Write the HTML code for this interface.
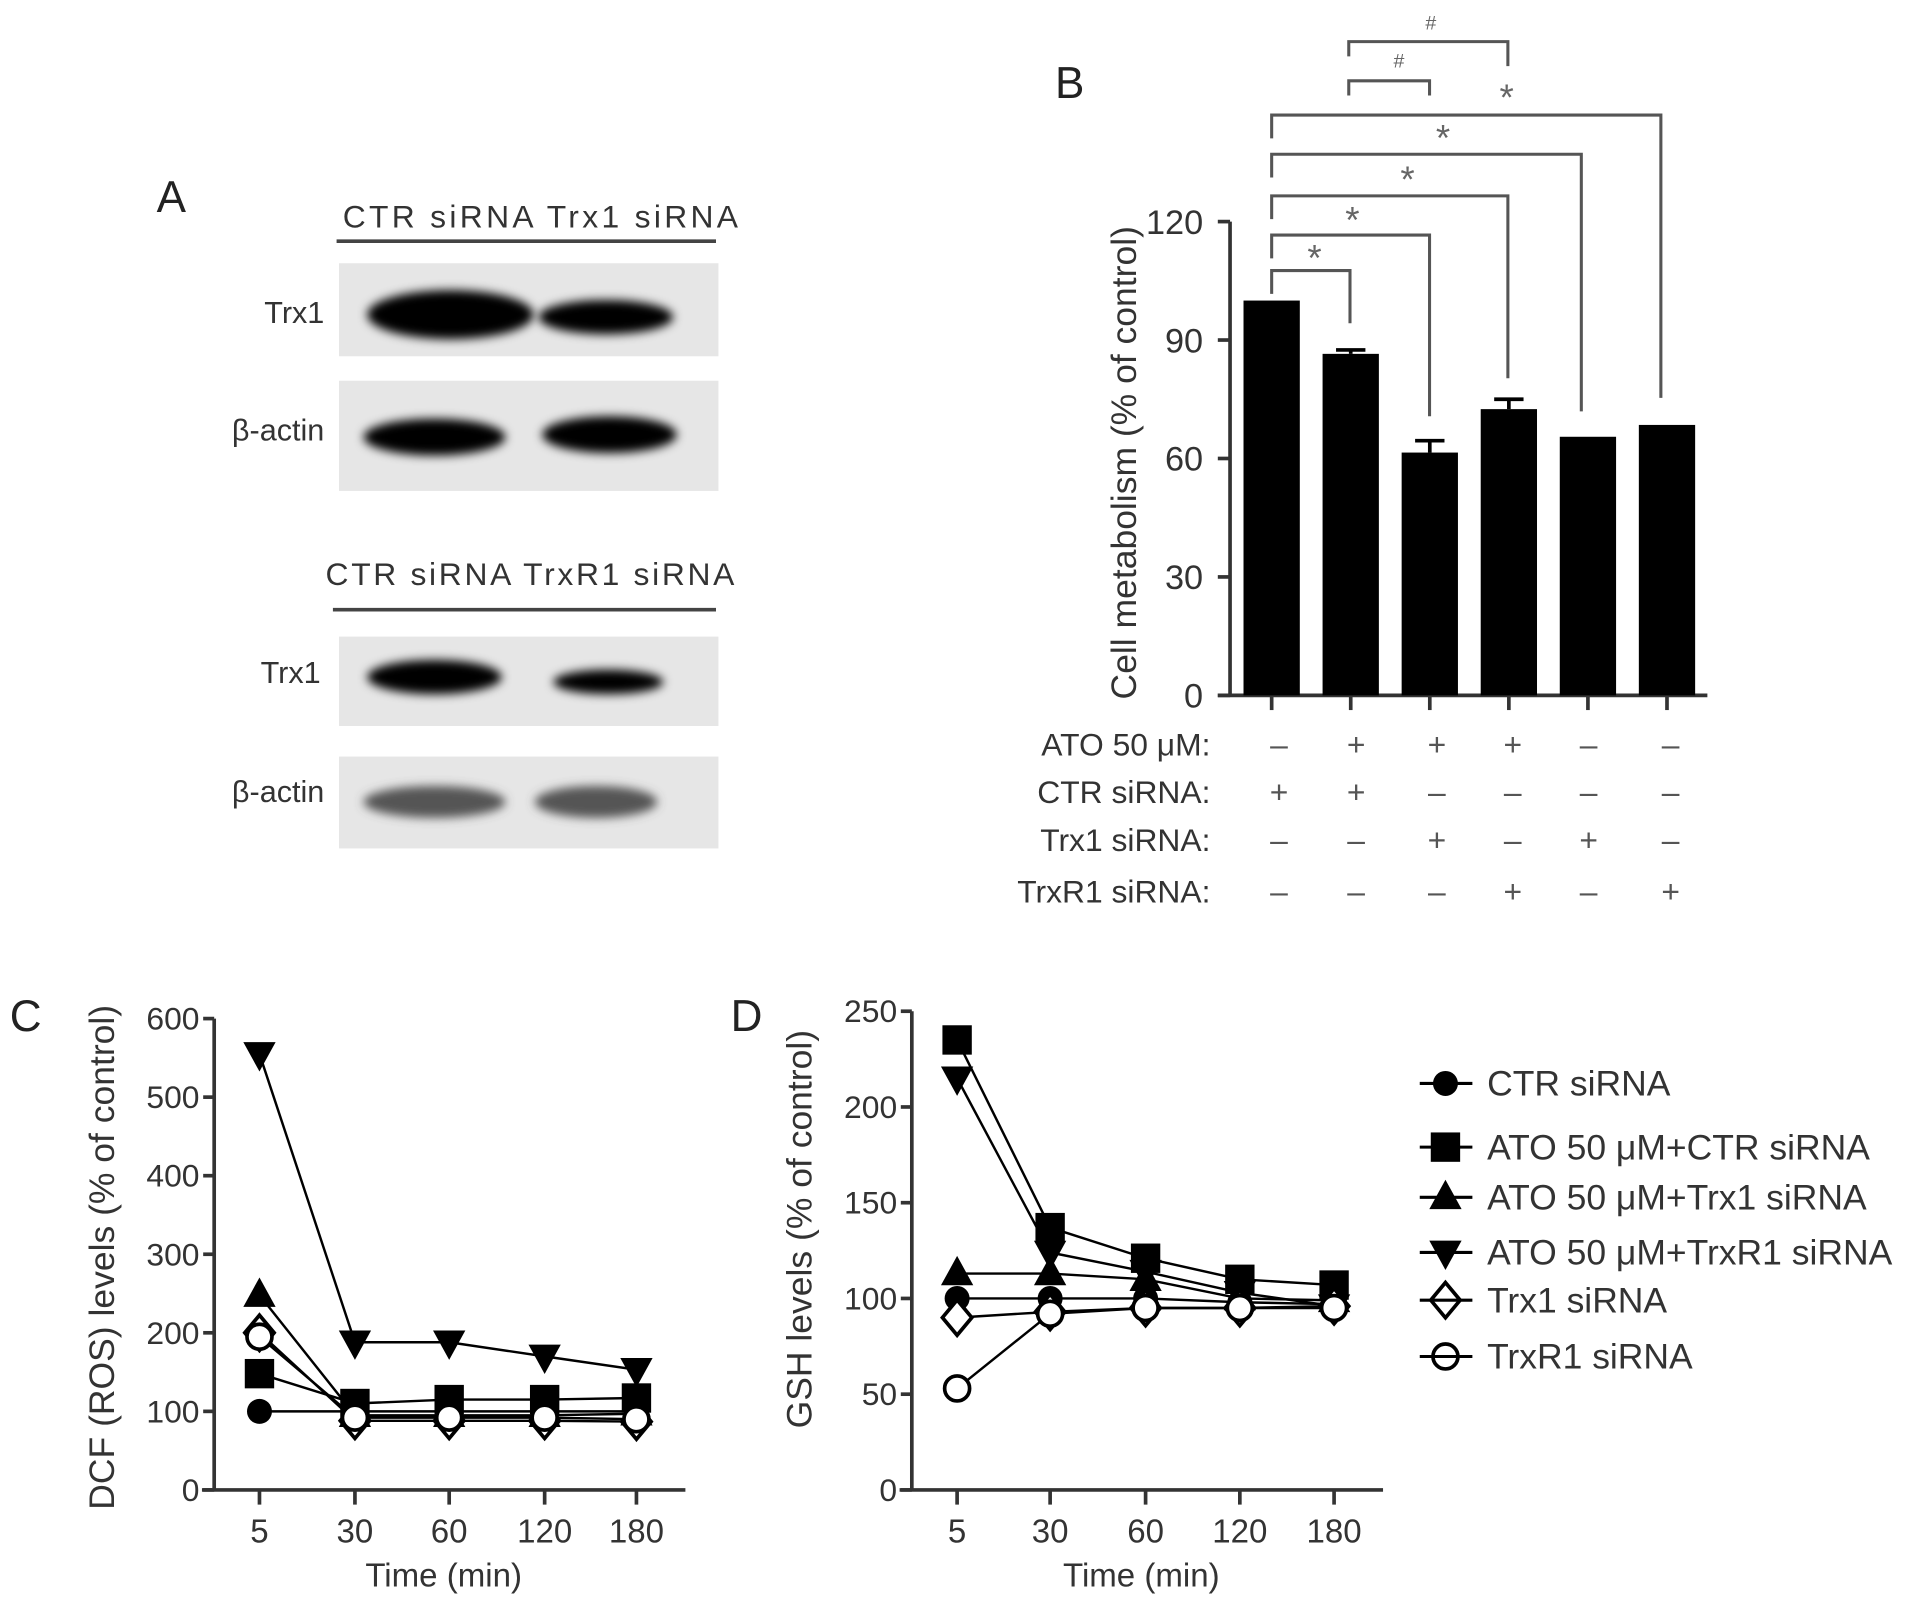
<!DOCTYPE html>
<html><head><meta charset="utf-8"><style>
html,body{margin:0;padding:0;background:#fff;}
svg{display:block;font-family:"Liberation Sans",sans-serif;}
</style></head><body>
<svg id="fig" width="1913" height="1605" viewBox="0 0 1563 1311" preserveAspectRatio="none" xmlns="http://www.w3.org/2000/svg">
<defs>
<filter id="blur" x="-20%" y="-50%" width="140%" height="200%"><feGaussianBlur stdDeviation="4"/></filter>
</defs>
<!-- Panel A -->
<g>
<text x="128" y="173" font-size="36" fill="#222">A</text>
<text x="280" y="186" font-size="26" textLength="323" lengthAdjust="spacing" fill="#333">CTR siRNA  Trx1 siRNA</text>
<line x1="275" y1="197" x2="585" y2="197" stroke="#444" stroke-width="3"/>
<rect x="277" y="215" width="310" height="76" fill="#e6e6e6"/>
<ellipse cx="368" cy="257" rx="68" ry="20" fill="#000" filter="url(#blur)"/>
<ellipse cx="495" cy="259" rx="55" ry="14" fill="#000" filter="url(#blur)"/>
<text x="265" y="264" font-size="25" text-anchor="end" fill="#333">Trx1</text>
<rect x="277" y="311" width="310" height="90" fill="#e6e6e6"/>
<ellipse cx="355" cy="357" rx="58" ry="15" fill="#000" filter="url(#blur)"/>
<ellipse cx="498" cy="355" rx="55" ry="15" fill="#000" filter="url(#blur)"/>
<text x="265" y="360" font-size="25" text-anchor="end" fill="#333">β-actin</text>
<text x="266" y="478" font-size="26" textLength="334" lengthAdjust="spacing" fill="#333">CTR siRNA TrxR1 siRNA</text>
<line x1="272" y1="498" x2="585" y2="498" stroke="#444" stroke-width="3"/>
<rect x="277" y="520" width="310" height="73" fill="#e6e6e6"/>
<ellipse cx="355" cy="553" rx="55" ry="14" fill="#000" filter="url(#blur)"/>
<ellipse cx="497" cy="557" rx="45" ry="10" fill="#000" filter="url(#blur)"/>
<text x="262" y="558" font-size="25" text-anchor="end" fill="#333">Trx1</text>
<rect x="277" y="618" width="310" height="75" fill="#e6e6e6"/>
<ellipse cx="355" cy="655" rx="58" ry="13" fill="#555" filter="url(#blur)"/>
<ellipse cx="487" cy="655" rx="50" ry="13" fill="#555" filter="url(#blur)"/>
<text x="265" y="655" font-size="25" text-anchor="end" fill="#333">β-actin</text>
</g>
<g id="panelB">
<text x="862" y="80" font-size="36" fill="#222">B</text>
</g>
<g id="panelC">
<text x="8" y="842" font-size="36" fill="#222">C</text>
</g>
<g id="panelD">
<text x="597" y="842" font-size="36" fill="#222">D</text>
</g>
<g id="legend"></g>
</svg>
<script>
// Panel B data
const barCategories = ['g1','g2','g3','g4','g5','g6'];
const barValues = [100, 86.5, 61.5, 72.5, 65.5, 68.5];
const barErrors = [0, 1, 3, 2.5, 0, 0];
const barYTicks = [0, 30, 60, 90, 120];
const rowLabels = ['ATO  50 μM:', 'CTR siRNA:', 'Trx1 siRNA:', 'TrxR1 siRNA:'];
const rowSigns = [['–','+','+','+','–','–'],['+','+','–','–','–','–'],['–','–','+','–','+','–'],['–','–','–','+','–','+']];
// Time series data
const timeLabels = ['5','30','60','120','180'];
const seriesNames = ['CTR siRNA','ATO 50 μM+CTR siRNA','ATO 50 μM+Trx1 siRNA','ATO 50 μM+TrxR1 siRNA','Trx1 siRNA','TrxR1 siRNA'];
const dcfCtr = [100, 100, 100, 100, 100];
const dcfAtoCtr = [148, 110, 115, 115, 117];
const dcfAtoTrx1 = [248, 95, 95, 95, 97];
const dcfAtoTrxR1 = [555, 188, 188, 170, 153];
const dcfTrx1 = [200, 88, 88, 88, 87];
const dcfTrxR1 = [195, 92, 92, 92, 90];
const gshCtr = [100, 100, 100, 98, 97];
const gshAtoCtr = [235, 137, 121, 110, 107];
const gshAtoTrx1 = [113, 113, 110, 100, 99];
const gshAtoTrxR1 = [215, 124, 114, 103, 96];
const gshTrx1 = [90, 93, 95, 95, 96];
const gshTrxR1 = [53, 92, 95, 95, 95];
const dcfYTicks = [0,100,200,300,400,500,600];
const gshYTicks = [0,50,100,150,200,250];

const NS='http://www.w3.org/2000/svg';
function mk(parent, tag, attrs, text){
  const e=document.createElementNS(NS,tag);
  for(const k in attrs) e.setAttribute(k, attrs[k]);
  if(text!==undefined) e.textContent=text;
  parent.appendChild(e); return e;
}
// ---- Panel B ----
const gB=document.getElementById('panelB');
const bx0=1005, bx1=1395, by0=568, by1=181;
const yB=v=>by0-(v/120)*(by0-by1);
const xB=i=>1039+i*64.6;
mk(gB,'line',{x1:bx0,y1:by1,x2:bx0,y2:by0+1,stroke:'#333','stroke-width':3});
mk(gB,'line',{x1:bx0-10,y1:by0,x2:bx1,y2:by0,stroke:'#333','stroke-width':3});
barYTicks.forEach(t=>{
  mk(gB,'line',{x1:bx0-10,y1:yB(t),x2:bx0,y2:yB(t),stroke:'#333','stroke-width':3});
  const tx=mk(gB,'text',{x:bx0-22,y:yB(t)+10,'font-size':28,'text-anchor':'end',fill:'#333'},String(t));
  
  
});
const yt=mk(gB,'text',{x:0,y:0,'font-size':29,'text-anchor':'middle',fill:'#333',transform:'translate(928,378) rotate(-90)'},'Cell metabolism (% of control)');


barValues.forEach((v,i)=>{
  const cx=xB(i);
  mk(gB,'line',{x1:cx,y1:by0,x2:cx,y2:by0+12,stroke:'#333','stroke-width':3});
  if(barErrors[i]>0){
    mk(gB,'line',{x1:cx,y1:yB(v),x2:cx,y2:yB(v+barErrors[i]),stroke:'#000','stroke-width':3});
    mk(gB,'line',{x1:cx-12,y1:yB(v+barErrors[i]),x2:cx+12,y2:yB(v+barErrors[i]),stroke:'#000','stroke-width':3});
  }
  const r=mk(gB,'rect',{x:cx-23,y:yB(v),width:46,height:by0-yB(v),fill:'#000'});
  
  
});
const signX=[1045,1108,1174,1236,1298,1365];
const rowY=[608,647,686,728];
rowLabels.forEach((l,ri)=>{
  const ty=rowY[ri]+9;
  const t=mk(gB,'text',{x:989,y:ty,'font-size':26,'text-anchor':'end',fill:'#333'},l);
  
  
  rowSigns[ri].forEach((s,i)=>{
    const st=mk(gB,'text',{x:signX[i],y:ty,'font-size':26,'text-anchor':'middle',fill:'#555'},s);
    
    
  });
});
// significance brackets: [leftX, rightX, topY, leftBottomY, rightBottomY, mark, markX, markY]
const brackets=[[1039,1103,221,240,264,'*',1074,205],[1039,1168,192,211,340,'*',1105,174],[1039,1232,160,179,309,'*',1150,141],[1039,1292,126,145,336,'*',1179,107],[1039,1357,94,113,325,'*',1231,74],[1102,1168,66,78,78,'#',1143,49],[1102,1232,34,46,54,'#',1169,18]];
brackets.forEach(b=>{
  const p=mk(gB,'path',{d:`M${b[0]},${b[3]} V${b[2]} H${b[1]} V${b[4]}`,fill:'none',stroke:'#555','stroke-width':2.5});
  
  
  mk(gB,'text',{x:b[6],y:b[7]+(b[5]==='*'?16:6),'font-size':b[5]==='*'?30:16,'text-anchor':'middle',fill:'#666'},b[5]);
});
// ---- line charts ----
const markers=['circle','square','triangle','down','diamond','ocircle'];
function marker(g,type,x,y,s){
  let e;
  if(type==='circle') e=mk(g,'circle',{cx:x,cy:y,r:s*0.85,fill:'#000'});
  else if(type==='square') e=mk(g,'rect',{x:x-s,y:y-s,width:2*s,height:2*s,fill:'#000'});
  else if(type==='triangle') e=mk(g,'polygon',{points:`${x},${y-s*1.2} ${x-s*1.1},${y+s*0.8} ${x+s*1.1},${y+s*0.8}`,fill:'#000'});
  else if(type==='down') e=mk(g,'polygon',{points:`${x},${y+s*1.2} ${x-s*1.1},${y-s*0.8} ${x+s*1.1},${y-s*0.8}`,fill:'#000'});
  else if(type==='diamond') e=mk(g,'polygon',{points:`${x},${y-s*1.2} ${x+s},${y} ${x},${y+s*1.2} ${x-s},${y}`,fill:'#fff',stroke:'#000','stroke-width':3});
  else e=mk(g,'circle',{cx:x,cy:y,r:s*0.85,fill:'#fff',stroke:'#000','stroke-width':3});
  
  
}
function lineChart(g,ax,x0,x1,y0,yTop,ticks,maxV,series,title,titleX,titleY,xpos){
  const yS=v=>y0-(v/maxV)*(y0-yTop);
  mk(g,'line',{x1:ax,y1:yTop,x2:ax,y2:y0+1,stroke:'#333','stroke-width':3});
  mk(g,'line',{x1:x0,y1:y0,x2:x1,y2:y0,stroke:'#333','stroke-width':3});
  ticks.forEach(t=>{
    mk(g,'line',{x1:ax-9,y1:yS(t),x2:ax,y2:yS(t),stroke:'#333','stroke-width':3});
    const tx=mk(g,'text',{x:ax-12,y:yS(t)+9,'font-size':26,'text-anchor':'end',fill:'#333'},String(t));
    
    
  });
  timeLabels.forEach((l,i)=>{
    mk(g,'line',{x1:xpos(i),y1:y0,x2:xpos(i),y2:y0+12,stroke:'#333','stroke-width':3});
    const tx=mk(g,'text',{x:xpos(i),y:y0+43,'font-size':27,'text-anchor':'middle',fill:'#333'},l);
    
    
  });
  const xt=mk(g,'text',{x:(x0+x1)/2,y:y0+79,'font-size':27,'text-anchor':'middle',fill:'#333'},'Time (min)');
  
  
  const ytt=mk(g,'text',{x:0,y:0,'font-size':29,'text-anchor':'middle',fill:'#333',transform:`translate(${titleX},${titleY}) rotate(-90)`},title);
  
  
  series.forEach((vals,si)=>{
    const pl=mk(g,'polyline',{points:vals.map((v,i)=>xpos(i)+','+yS(v)).join(' '),fill:'none',stroke:'#000','stroke-width':2});
    
    
  });
  series.forEach((vals,si)=>vals.forEach((v,i)=>marker(g,markers[si],xpos(i),yS(v),12)));
}
lineChart(document.getElementById('panelC'),175,165,560,1217,832,dcfYTicks,600,
  [dcfCtr,dcfAtoCtr,dcfAtoTrx1,dcfAtoTrxR1,dcfTrx1,dcfTrxR1],'DCF (ROS) levels (% of control)',93,1027,i=>[212,290,367,445,520][i]);
lineChart(document.getElementById('panelD'),745,735,1130,1217,826,gshYTicks,250,
  [gshCtr,gshAtoCtr,gshAtoTrx1,gshAtoTrxR1,gshTrx1,gshTrxR1],'GSH levels (% of control)',663,1004,i=>[782,858,936,1013,1090][i]);
// legend
const gL=document.getElementById('legend');
const legY=[885,937,978,1023,1062,1108];
seriesNames.forEach((n,i)=>{
  marker(gL,markers[i],1181,legY[i],12);
  mk(gL,'line',{x1:1160,y1:legY[i],x2:1203,y2:legY[i],stroke:'#000','stroke-width':2.5});
  const t=mk(gL,'text',{x:1215,y:legY[i]+10,'font-size':29,fill:'#333'},n);
  
  
});
</script>
</body></html>
